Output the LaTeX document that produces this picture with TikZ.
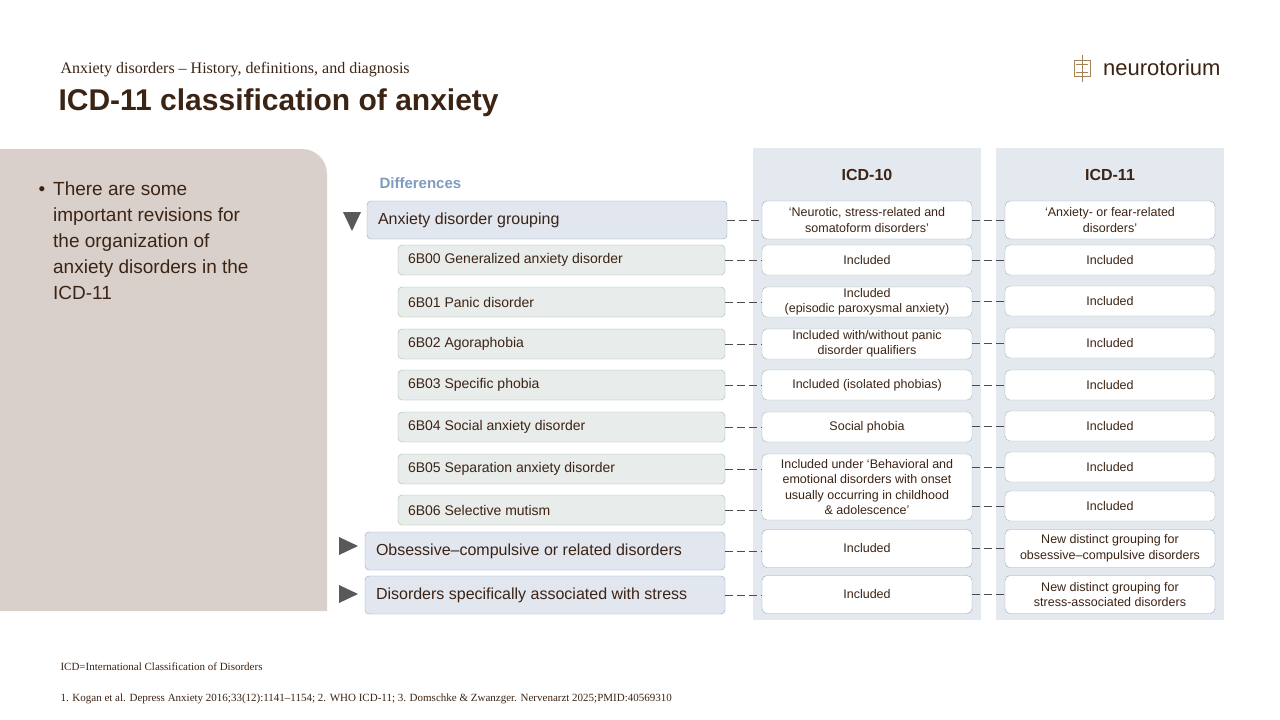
\documentclass[tikz,border=0pt]{standalone}
\usepackage{fontspec}
\setmainfont{Liberation Sans}
\newfontfamily\serifff{Liberation Serif}
\definecolor{tx}{HTML}{3C2415}
\definecolor{diffc}{HTML}{7F9CC0}
\definecolor{mfill}{HTML}{E1E6EF}
\definecolor{mdraw}{HTML}{8FA9C8}
\definecolor{sfill}{HTML}{E8ECEA}
\definecolor{sdraw}{HTML}{9FBCAA}
\definecolor{colbg}{HTML}{E4E8EF}
\definecolor{panel}{HTML}{D9D0CB}
\begin{document}
\begin{tikzpicture}[x=1pt,y=-1pt,
  txt/.style={text=tx},
  mainbox/.style={draw=mdraw,fill=mfill,rounded corners=4pt,minimum width=360pt,minimum height=38pt,inner sep=0pt,font=\fontsize{16}{18}\selectfont,text=tx,align=left},
  subbox/.style={draw=sdraw,fill=sfill,rounded corners=4pt,minimum width=327pt,minimum height=30pt,inner sep=0pt,font=\fontsize{14}{16}\selectfont,text=tx},
  cbox/.style={draw=sdraw,fill=white,rounded corners=5pt,minimum width=210pt,minimum height=30pt,inner sep=0pt,font=\fontsize{12.5}{15.5}\selectfont,text=tx,align=center},
  cboxb/.style={cbox,draw=mdraw,minimum height=38pt},
  conn/.style={draw=gray!60!black,dash pattern=on 8pt off 4pt}]
\useasboundingbox (0,0) rectangle (1280,720);
\fill[white] (0,0) rectangle (1280,720);
% header
\node[anchor=west,txt,font=\serifff\fontsize{16}{18}\selectfont] (sub) at (57,70) {Anxiety disorders – History, definitions, and diagnosis};
\node[anchor=west,txt,font=\bfseries\fontsize{30}{34}\selectfont] (title) at (55,103) {ICD-11 classification of anxiety};
\node[anchor=east,txt,font=\fontsize{22}{24}\selectfont] (logo) at (1224,68) {neurotorium};
\draw[brown!60!gray,line width=0.8pt] (1082,55) -- (1082,82) (1074,60) rectangle (1090,76) (1076,64) -- (1088,64) (1076,72)--(1088,72);
% left panel
\fill[panel] (0,149) -- (302,149) arc[start angle=-90,end angle=0,radius=25] -- (327,611) -- (0,611) -- cycle;
\node[anchor=north west,txt,font=\fontsize{19}{26}\selectfont,align=left] (bul) at (35,178) {\textbullet\hspace{8pt}\parbox[t]{215pt}{\raggedright\hyphenpenalty=10000 There are some important revisions for the organization of anxiety disorders in the ICD-11}};
% columns
\fill[colbg] (753,148) rectangle (981,620);
\fill[colbg] (996,148) rectangle (1224,620);
\node[txt,font=\bfseries\fontsize{16}{18}\selectfont] (h10) at (867,175) {ICD-10};
\node[txt,font=\bfseries\fontsize{16}{18}\selectfont] (h11) at (1110,175) {ICD-11};
\node[anchor=west,text=diffc,font=\bfseries\fontsize{15}{17}\selectfont] (diff) at (376,183) {Differences};
% triangles
\fill[gray!70!black] (343,212) -- (361,212) -- (352,231) -- cycle;
\fill[gray!70!black] (339,537) -- (358,546) -- (339,555) -- cycle;
\fill[gray!70!black] (339,585) -- (358,594) -- (339,603) -- cycle;
% left boxes
\node[mainbox] (m1) at (547,220) {\makebox[338pt][l]{Anxiety disorder grouping}};
\node[subbox] (s0) at (561.5,260) {\makebox[307pt][l]{6B00 Generalized anxiety disorder}};
\node[subbox] (s1) at (561.5,302) {\makebox[307pt][l]{6B01 Panic disorder}};
\node[subbox] (s2) at (561.5,344) {\makebox[307pt][l]{6B02 Agoraphobia}};
\node[subbox] (s3) at (561.5,385) {\makebox[307pt][l]{6B03 Specific phobia}};
\node[subbox] (s4) at (561.5,427) {\makebox[307pt][l]{6B04 Social anxiety disorder}};
\node[subbox] (s5) at (561.5,469) {\makebox[307pt][l]{6B05 Separation anxiety disorder}};
\node[subbox] (s6) at (561.5,510) {\makebox[307pt][l]{6B06 Selective mutism}};
\node[mainbox] (m2) at (545,551) {\makebox[338pt][l]{Obsessive–compulsive or related disorders}};
\node[mainbox] (m3) at (545,595) {\makebox[338pt][l]{Disorders specifically associated with stress}};
% ICD-10
\node[cboxb] (a1) at (867,220) {‘Neurotic, stress-related and\\somatoform disorders’};
\node[cbox] (a0) at (867,260) {Included};
\node[cbox] (aP) at (867,302) {Included\\(episodic paroxysmal anxiety)};
\node[cbox] (aA) at (867,344) {Included with/without panic\\disorder qualifiers};
\node[cbox] (aS) at (867,385) {Included (isolated phobias)};
\node[cbox] (aSo) at (867,427) {Social phobia};
\node[cbox,minimum height=66pt] (aM) at (867,487) {Included under ‘Behavioral and\\emotional disorders with onset\\usually occurring in childhood\\\& adolescence’};
\node[cboxb] (aO) at (867,548.5) {Included};
\node[cboxb] (aT) at (867,594.5) {Included};
% ICD-11
\node[cboxb] (b1) at (1110,220) {‘Anxiety- or fear-related\\disorders’};
\node[cbox] (b0) at (1110,260) {Included};
\node[cbox] (bP) at (1110,301) {Included};
\node[cbox] (bA) at (1110,343) {Included};
\node[cbox] (bS) at (1110,385) {Included};
\node[cbox] (bSo) at (1110,426) {Included};
\node[cbox] (b5) at (1110,467) {Included};
\node[cbox] (b6) at (1110,506) {Included};
\node[cboxb] (bO) at (1110,548.5) {New distinct grouping for\\obsessive–compulsive disorders};
\node[cboxb] (bT) at (1110,594.5) {New distinct grouping for\\stress-associated disorders};
% connectors
\foreach \l/\c/\r in {m1/a1/b1,s0/a0/b0,s1/aP/bP,s2/aA/bA,s3/aS/bS,s4/aSo/bSo,m2/aO/bO,m3/aT/bT}{
  \draw[conn] (\l.east) -- (\l.east -| \c.west);
  \draw[conn] (\c.east |- \r.west) -- (\r.west);
}
\draw[conn] (s5.east) -- (s5.east -| aM.west);
\draw[conn] (s6.east) -- (s6.east -| aM.west);
\draw[conn] (aM.east |- b5.west) -- (b5.west);
\draw[conn] (aM.east |- b6.west) -- (b6.west);
% footer
\node[anchor=west,txt,font=\serifff\fontsize{11}{13}\selectfont] (f1) at (57,667) {ICD=International Classification of Disorders};
\node[anchor=west,txt,font=\serifff\fontsize{11}{13}\selectfont] (f2) at (57,699) {1. Kogan et al. Depress Anxiety 2016;33(12):1141–1154; 2. WHO ICD-11; 3. Domschke \& Zwanzger. Nervenarzt 2025;PMID:40569310};
\end{tikzpicture}
\end{document}
